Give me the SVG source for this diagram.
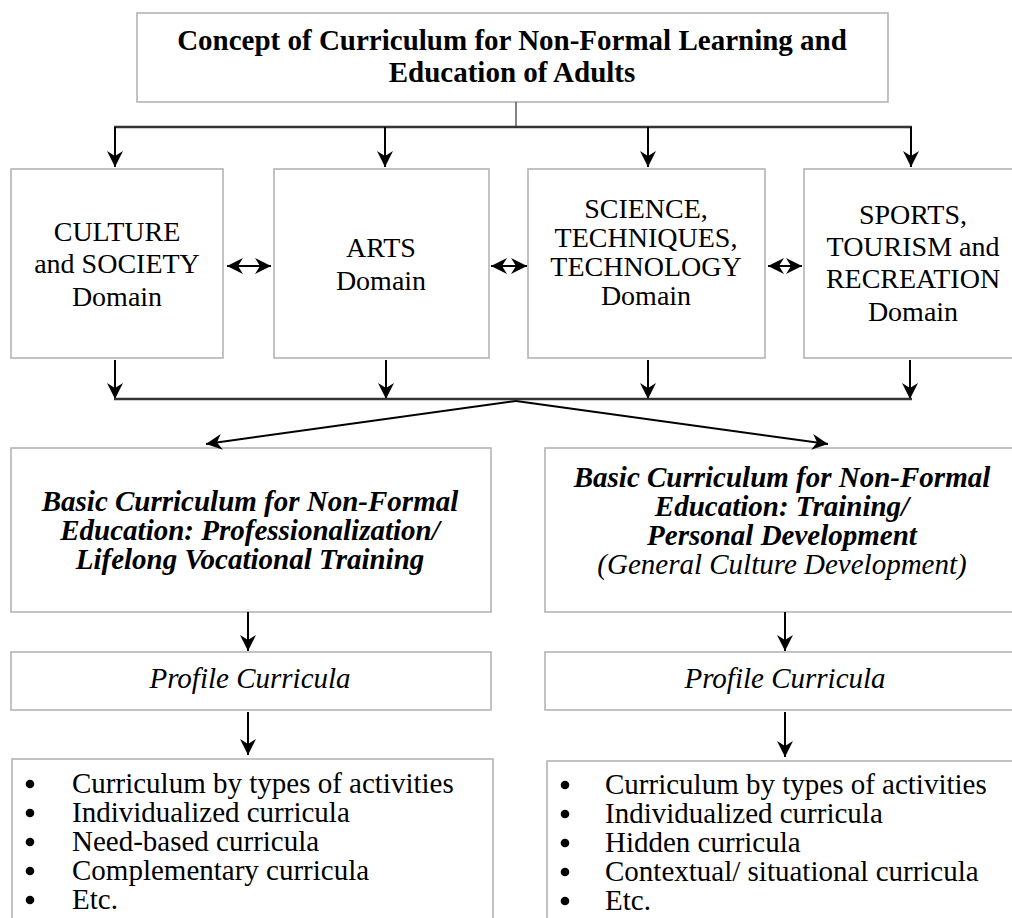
<svg xmlns="http://www.w3.org/2000/svg" width="1012" height="918" viewBox="0 0 1012 918">
  <defs>
    <style>
      .box { fill: #ffffff; stroke: #b4b4b4; stroke-width: 1.6; }
      .t { font-family: "Liberation Serif", "Times New Roman", serif; fill: #000; }
      .title { font-size: 29px; font-weight: bold; text-anchor: middle; }
      .dom { font-size: 28px; text-anchor: middle; }
      .basic { font-size: 29px; font-weight: bold; font-style: italic; text-anchor: middle; }
      .sub { font-size: 29px; font-style: italic; text-anchor: middle; }
      .li { font-size: 29px; }
      .dot { fill: #000; }
      .con { fill: none; stroke: #000; stroke-width: 2; }
      .bar { fill: none; stroke: #333; stroke-width: 2.4; }
      .thin { fill: none; stroke: #333; stroke-width: 1.2; }
    </style>
    <marker id="head" viewBox="-17 -9 18 18" refX="0" refY="0" markerWidth="18" markerHeight="18" markerUnits="userSpaceOnUse" orient="auto-start-reverse">
      <path d="M0,0 L-16,-8 L-11,0 L-16,8 Z" fill="#000"/>
    </marker>
  </defs>

  <!-- top concept box -->
  <g id="concept">
    <rect class="box" x="137" y="13" width="751" height="89"/>
    <text class="t title" x="512" y="50">Concept of Curriculum for Non-Formal Learning and</text>
    <text class="t title" x="512" y="82">Education of Adults</text>
  </g>

  <!-- domain boxes -->
  <g id="culture">
    <rect class="box" x="11" y="169" width="212" height="189"/>
    <text class="t dom" x="117" y="241">CULTURE</text>
    <text class="t dom" x="117" y="273">and SOCIETY</text>
    <text class="t dom" x="117" y="306">Domain</text>
  </g>
  <g id="arts">
    <rect class="box" x="274" y="169" width="215" height="189"/>
    <text class="t dom" x="381" y="257">ARTS</text>
    <text class="t dom" x="381" y="290">Domain</text>
  </g>
  <g id="science">
    <rect class="box" x="528" y="169" width="237" height="189"/>
    <text class="t dom" x="646" y="218">SCIENCE,</text>
    <text class="t dom" x="646" y="247">TECHNIQUES,</text>
    <text class="t dom" x="646" y="276">TECHNOLOGY</text>
    <text class="t dom" x="646" y="305">Domain</text>
  </g>
  <g id="sports">
    <rect class="box" x="804" y="169" width="220" height="189"/>
    <text class="t dom" x="913" y="224">SPORTS,</text>
    <text class="t dom" x="913" y="256">TOURISM and</text>
    <text class="t dom" x="913" y="288">RECREATION</text>
    <text class="t dom" x="913" y="321">Domain</text>
  </g>

  <!-- basic curriculum boxes -->
  <g id="basic-professional">
    <rect class="box" x="11" y="448" width="480" height="164"/>
    <text class="t basic" x="250" y="511">Basic Curriculum for Non-Formal</text>
    <text class="t basic" x="250" y="540">Education: Professionalization/</text>
    <text class="t basic" x="250" y="569">Lifelong Vocational Training</text>
  </g>
  <g id="basic-personal">
    <rect class="box" x="545" y="448" width="480" height="164"/>
    <text class="t basic" x="782" y="487">Basic Curriculum for Non-Formal</text>
    <text class="t basic" x="782" y="516">Education: Training/</text>
    <text class="t basic" x="782" y="545">Personal Development</text>
    <text class="t sub" x="782" y="574">(General Culture Development)</text>
  </g>

  <!-- profile boxes -->
  <g id="profile-left">
    <rect class="box" x="11" y="652" width="480" height="58"/>
    <text class="t sub" x="250" y="688">Profile Curricula</text>
  </g>
  <g id="profile-right">
    <rect class="box" x="545" y="652" width="480" height="58"/>
    <text class="t sub" x="785" y="688">Profile Curricula</text>
  </g>

  <!-- curricula lists -->
  <g id="list-left">
    <rect class="box" x="12" y="759" width="481" height="180"/>
    <circle class="dot" cx="30" cy="784" r="4.3"/>
    <circle class="dot" cx="30" cy="813" r="4.3"/>
    <circle class="dot" cx="30" cy="842" r="4.3"/>
    <circle class="dot" cx="30" cy="871" r="4.3"/>
    <circle class="dot" cx="30" cy="900" r="4.3"/>
    <text class="t li" x="72" y="793">Curriculum by types of activities</text>
    <text class="t li" x="72" y="822">Individualized curricula</text>
    <text class="t li" x="72" y="851">Need-based curricula</text>
    <text class="t li" x="72" y="880">Complementary curricula</text>
    <text class="t li" x="72" y="909">Etc.</text>
  </g>
  <g id="list-right">
    <rect class="box" x="547" y="761" width="480" height="180"/>
    <circle class="dot" cx="565" cy="785" r="4.3"/>
    <circle class="dot" cx="565" cy="814" r="4.3"/>
    <circle class="dot" cx="565" cy="843" r="4.3"/>
    <circle class="dot" cx="565" cy="872" r="4.3"/>
    <circle class="dot" cx="565" cy="901" r="4.3"/>
    <text class="t li" x="605" y="794">Curriculum by types of activities</text>
    <text class="t li" x="605" y="823">Individualized curricula</text>
    <text class="t li" x="605" y="852">Hidden curricula</text>
    <text class="t li" x="605" y="881">Contextual/ situational curricula</text>
    <text class="t li" x="605" y="910">Etc.</text>
  </g>

  <!-- connectors -->
  <g id="connectors">
    <!-- concept to domains -->
    <line class="thin" x1="516" y1="102" x2="516" y2="127"/>
    <line class="bar" x1="114" y1="127" x2="912" y2="127"/>
    <line class="con" x1="115" y1="127" x2="115" y2="167" marker-end="url(#head)"/>
    <line class="con" x1="385" y1="127" x2="385" y2="167" marker-end="url(#head)"/>
    <line class="con" x1="648" y1="127" x2="648" y2="167" marker-end="url(#head)"/>
    <line class="con" x1="911" y1="127" x2="911" y2="167" marker-end="url(#head)"/>

    <!-- links between domains -->
    <line class="con" x1="227" y1="266" x2="271" y2="266" marker-start="url(#head)" marker-end="url(#head)"/>
    <line class="con" x1="491" y1="266" x2="527" y2="266" marker-start="url(#head)" marker-end="url(#head)"/>
    <line class="con" x1="768" y1="266" x2="802" y2="266" marker-start="url(#head)" marker-end="url(#head)"/>

    <!-- domains to collector bar -->
    <line class="con" x1="115" y1="360" x2="115" y2="399" marker-end="url(#head)"/>
    <line class="con" x1="386" y1="360" x2="386" y2="399" marker-end="url(#head)"/>
    <line class="con" x1="648" y1="360" x2="648" y2="399" marker-end="url(#head)"/>
    <line class="con" x1="910" y1="360" x2="910" y2="399" marker-end="url(#head)"/>
    <line class="bar" x1="114" y1="399" x2="912" y2="399"/>

    <!-- split to the two basic curricula -->
    <polyline class="con" points="516,401 206,444" marker-end="url(#head)"/>
    <polyline class="con" points="516,401 828,444" marker-end="url(#head)"/>

    <!-- basic to profile to lists -->
    <line class="con" x1="248" y1="612" x2="248" y2="651" marker-end="url(#head)"/>
    <line class="con" x1="785" y1="612" x2="785" y2="651" marker-end="url(#head)"/>
    <line class="con" x1="248" y1="712" x2="248" y2="755" marker-end="url(#head)"/>
    <line class="con" x1="785" y1="712" x2="785" y2="757" marker-end="url(#head)"/>
  </g>
</svg>
